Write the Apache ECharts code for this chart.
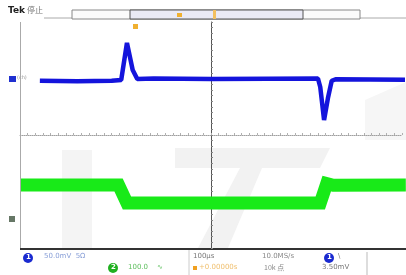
<!DOCTYPE html>
<html>
<head>
<meta charset="utf-8">
<script src="https://cdn.jsdelivr.net/npm/echarts@6/dist/echarts.min.js"></script>
<style>
html, body { margin: 0; padding: 0; background: #fff; }
#main { width: 406px; height: 275px; }
</style>
</head>
<body>
<div id="main"></div>
<script>
var myChart = echarts.init(document.getElementById('main'));

// 通道1 (蓝) 坐标单位: 格
var ch1X = [-4.48, -3.5, -2.6, -2.35, -2.2, -2.05, -1.93, -1.5, 0, 1.5, 2.8, 2.86, 2.96, 3.06, 3.16, 3.26, 5.1];
var ch1Y = [1.92, 1.9, 1.92, 1.95, 3.26, 2.3, 1.98, 2.0, 1.98, 1.99, 2.0, 1.7, 0.53, 1.3, 1.92, 1.97, 1.96];
// 通道2 (绿)
var ch2X = [-5, -2.42, -2.2, 2.86, 3.03, 3.2, 5.1];
var ch2Y = [-1.77, -1.77, -2.41, -2.41, -1.72, -1.78, -1.77];

// 底部读数
var ch1Scale = '50.0mV';
var ch2Scale = '100.0';
var timeScale = '100μs';
var sampleRate = '10.0MS/s';
var recordLen = '10k 点';
var trigLevel = '3.50mV';

function pairs(xs, ys) {
    var out = [];
    for (var i = 0; i < xs.length; i++) out.push([xs[i], ys[i]]);
    return out;
}

var option = {
    backgroundColor: '#ffffff',
    animation: false,
    grid: { left: 20, right: 4, top: 22, bottom: 27 },
    xAxis: {
        type: 'value', min: -5, max: 5, interval: 0.2,
        axisLine: { show: true, onZero: true, lineStyle: { color: '#a0a0a0', type: 'dotted', width: 1 } },
        axisTick: { show: true, inside: true, length: 2, lineStyle: { color: '#b0b0b0' } },
        axisLabel: { show: false },
        splitLine: { show: false }
    },
    yAxis: {
        type: 'value', min: -4, max: 4, interval: 0.2,
        axisLine: { show: true, onZero: true, lineStyle: { color: '#555', width: 1 } },
        axisTick: { show: true, inside: true, length: 2, lineStyle: { color: '#888' } },
        axisLabel: { show: false },
        splitLine: { show: false }
    },
    graphic: [
        // 水印
        { type: 'polygon', z: -1, shape: { points: [[62, 150], [92, 150], [92, 248], [62, 248]] }, style: { fill: '#f4f4f4' } },
        { type: 'polygon', z: -1, shape: { points: [[175, 148], [330, 148], [320, 168], [262, 168], [228, 248], [198, 248], [240, 168], [175, 168]] }, style: { fill: '#f2f2f2' } },
        { type: 'polygon', z: -1, shape: { points: [[365, 100], [406, 82], [406, 140], [365, 140]] }, style: { fill: '#f6f6f6' } },
        // 顶部
        { type: 'text', left: 8, top: 6, style: { text: 'Tek', font: 'bold 9px "DejaVu Sans"', fill: '#222' } },
        { type: 'text', left: 27, top: 6, style: { text: '停止', font: '8px "Noto Sans CJK SC"', fill: '#777' } },
        { type: 'line', shape: { x1: 44, y1: 18, x2: 72, y2: 18 }, style: { stroke: '#aaa', lineWidth: 1 } },
        { type: 'line', shape: { x1: 360, y1: 18, x2: 406, y2: 18 }, style: { stroke: '#aaa', lineWidth: 1 } },
        { type: 'rect', shape: { x: 72, y: 10, width: 288, height: 9 }, style: { fill: '#fbfbfb', stroke: '#888', lineWidth: 1 } },
        { type: 'rect', shape: { x: 130, y: 10, width: 173, height: 9 }, style: { fill: '#eaeaf6', stroke: '#555', lineWidth: 1 } },
        { type: 'rect', shape: { x: 177, y: 13, width: 5, height: 4 }, style: { fill: '#f0b030' } },
        { type: 'rect', shape: { x: 213, y: 10, width: 3, height: 9 }, style: { fill: '#f3c060' } },
        { type: 'rect', shape: { x: 133, y: 24, width: 5, height: 5 }, style: { fill: '#f0b030' } },
        // 通道标记
        { type: 'rect', shape: { x: 9, y: 76, width: 7, height: 6 }, style: { fill: '#2030d0' } },
        { type: 'text', left: 17, top: 75, style: { text: '(ch)', font: '5px "DejaVu Sans"', fill: '#999' } },
        { type: 'rect', shape: { x: 9, y: 216, width: 6, height: 6 }, style: { fill: '#667766' } },
        // 底部
        { type: 'line', shape: { x1: 20, y1: 249, x2: 406, y2: 249 }, style: { stroke: '#333', lineWidth: 2 } },
        { type: 'circle', shape: { cx: 28, cy: 258, r: 5 }, style: { fill: '#1a2ad0' } },
        { type: 'text', left: 26, top: 254, style: { text: '1', font: 'bold 7px "DejaVu Sans"', fill: '#fff' } },
        { type: 'text', left: 44, top: 253, style: { text: ch1Scale + '  5Ω', font: '7px "DejaVu Sans"', fill: '#8aa0d8' } },
        { type: 'circle', shape: { cx: 113, cy: 268, r: 5 }, style: { fill: '#20b020' } },
        { type: 'text', left: 111, top: 264, style: { text: '2', font: 'bold 7px "DejaVu Sans"', fill: '#fff' } },
        { type: 'text', left: 128, top: 264, style: { text: ch2Scale + '    ∿', font: '7px "DejaVu Sans"', fill: '#60c060' } },
        { type: 'line', shape: { x1: 189, y1: 250, x2: 189, y2: 275 }, style: { stroke: '#ccc', lineWidth: 1 } },
        { type: 'text', left: 193, top: 253, style: { text: timeScale, font: '7px "DejaVu Sans"', fill: '#777' } },
        { type: 'rect', shape: { x: 193, y: 266, width: 4, height: 4 }, style: { fill: '#f0a020' } },
        { type: 'text', left: 199, top: 264, style: { text: '+0.00000s', font: '7px "DejaVu Sans"', fill: '#f0c070' } },
        { type: 'text', left: 262, top: 253, style: { text: sampleRate, font: '7px "DejaVu Sans"', fill: '#888' } },
        { type: 'text', left: 264, top: 264, style: { text: recordLen, font: '7px "Noto Sans CJK SC"', fill: '#888' } },
        { type: 'circle', shape: { cx: 329, cy: 258, r: 5 }, style: { fill: '#1a2ad0' } },
        { type: 'text', left: 327, top: 254, style: { text: '1', font: 'bold 7px "DejaVu Sans"', fill: '#fff' } },
        { type: 'text', left: 338, top: 253, style: { text: '\\', font: '7px "DejaVu Sans"', fill: '#777' } },
        { type: 'text', left: 322, top: 264, style: { text: trigLevel, font: '7px "DejaVu Sans"', fill: '#777' } },
        { type: 'line', shape: { x1: 367, y1: 252, x2: 367, y2: 275 }, style: { stroke: '#bbb', lineWidth: 1 } }
    ],
    series: [
        {
            type: 'line', data: pairs(ch2X, ch2Y), symbol: 'none', z: 3, clip: false,
            lineStyle: { color: '#18ea18', width: 13, join: 'miter' }
        },
        {
            type: 'line', data: pairs(ch1X, ch1Y), symbol: 'none', z: 4, clip: false,
            lineStyle: { color: '#1414dc', width: 4.5 },
            markLine: {
                silent: true, symbol: 'none', label: { show: false },
                lineStyle: { color: '#aaa', type: 'solid', width: 1 },
                data: [{ xAxis: -5 }]
            }
        }
    ]
};

myChart.setOption(option);
</script>
</body>
</html>
